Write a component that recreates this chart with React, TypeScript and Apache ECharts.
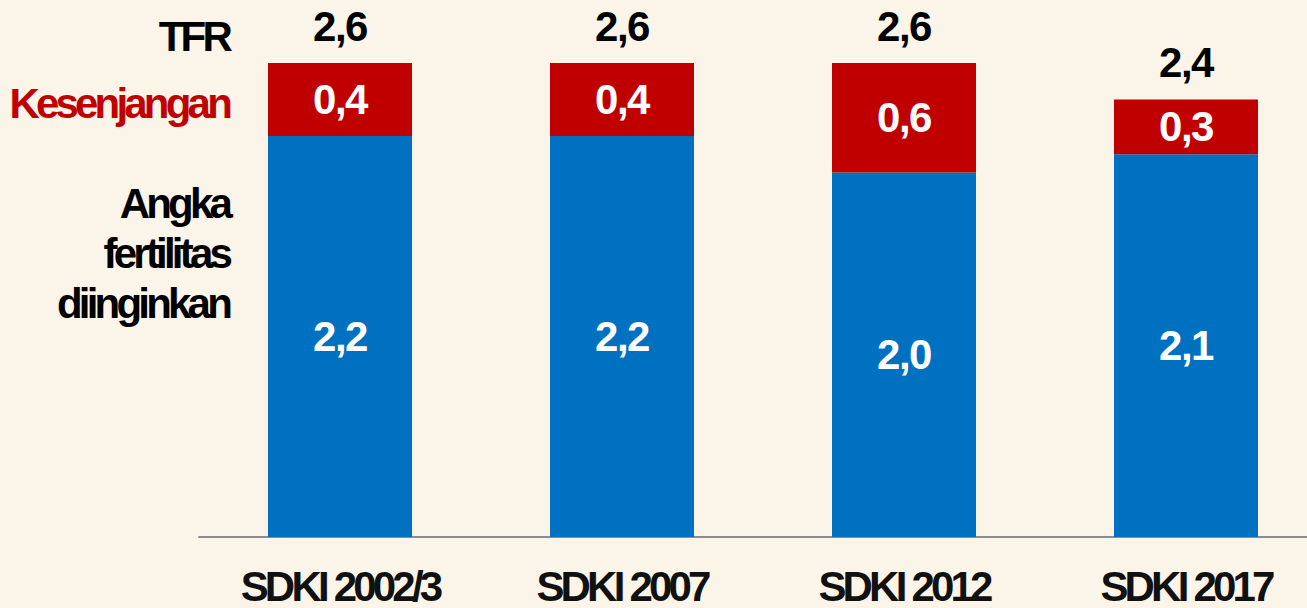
import React, { useEffect, useRef } from "react";
import * as echarts from "echarts";

const categories = ["SDKI 2002/3", "SDKI 2007", "SDKI 2012", "SDKI 2017"];
const desiredValues = [2.2, 2.2, 2.0, 2.1];
const gapValues = [0.4, 0.4, 0.6, 0.3];
const tfrValues = [2.6, 2.6, 2.6, 2.4];
const rowLabels = { tfr: "TFR", gap: "Kesenjangan", desired: "Angka\nfertilitas\ndiinginkan" };

const FONT = "'Liberation Sans', Helvetica, sans-serif";
const NUM_FONT = "'Liberation Sans', Arial, sans-serif";
const fmt = (v: number) => v.toFixed(1).replace(".", ",");

export default function App() {
  const ref = useRef<HTMLDivElement>(null);
  useEffect(() => {
    document.body.style.margin = "0";
    document.body.style.overflow = "hidden";
    const styleEl = document.createElement("style");
    styleEl.textContent =
      "#root svg text { letter-spacing: -3.8px; } #root svg text[style*='Arial'] { letter-spacing: -1.5px; }";
    document.head.appendChild(styleEl);
    const chart = echarts.init(ref.current!, null, { renderer: "svg" });
    const valueLabel = (color: string) => ({
      show: true,
      color,
      fontFamily: NUM_FONT,
      fontWeight: "bold",
      fontSize: 42,
      formatter: (p: any) => fmt(p.value),
    });
    chart.setOption({
      animation: false,
      backgroundColor: "#FBF5E9",
      grid: { left: 199, top: 63, right: 0, bottom: 71 },
      xAxis: {
        type: "category",
        data: categories,
        axisLine: { lineStyle: { color: "#8C8C8C", width: 2 } },
        axisTick: { show: false },
        axisLabel: {
          interval: 0,
          color: "#111111",
          fontFamily: FONT,
          fontWeight: "bold",
          fontSize: 42,
          margin: 28,
        },
      },
      yAxis: { type: "value", min: 0, max: 2.6, show: false, splitLine: { show: false } },
      series: [
        {
          type: "bar",
          stack: "a",
          data: desiredValues,
          barWidth: 144,
          itemStyle: { color: "#0070C0" },
          label: { ...valueLabel("#FFFFFF"), position: "inside" },
        },
        {
          type: "bar",
          stack: "a",
          data: gapValues,
          barWidth: 144,
          itemStyle: { color: "#C00000" },
          label: { ...valueLabel("#FFFFFF"), position: "inside" },
        },
        {
          type: "scatter",
          data: tfrValues,
          symbolSize: 1,
          itemStyle: { color: "rgba(0,0,0,0)", opacity: 1 },
          label: { ...valueLabel("#000000"), position: "top", distance: 15 },
        },
      ],
      graphic: [
        {
          type: "text",
          style: {
            text: rowLabels.tfr,
            x: 229,
            y: 36,
            align: "right",
            verticalAlign: "middle",
            fill: "#000000",
            font: `bold 42px ${FONT}`,
          },
        },
        {
          type: "text",
          style: {
            text: rowLabels.gap,
            x: 229,
            y: 103,
            align: "right",
            verticalAlign: "middle",
            fill: "#C00000",
            font: `bold 42px ${FONT}`,
          },
        },
        {
          type: "text",
          style: {
            text: rowLabels.desired,
            x: 229,
            y: 253,
            align: "right",
            verticalAlign: "middle",
            lineHeight: 50,
            fill: "#000000",
            font: `bold 42px ${FONT}`,
          },
        },
      ],
    });
    return () => {
      chart.dispose();
      styleEl.remove();
    };
  }, []);
  return <div ref={ref} style={{ width: 1327, height: 608 }} />;
}
